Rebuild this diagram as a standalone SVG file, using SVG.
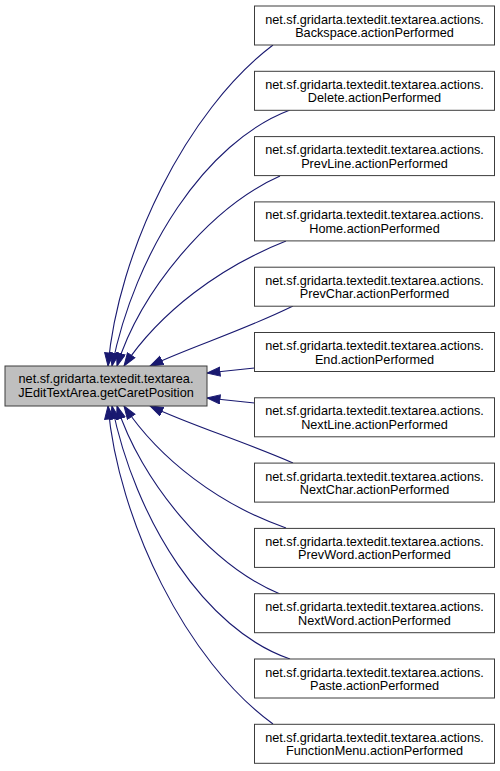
<svg xmlns="http://www.w3.org/2000/svg" width="500" height="771" viewBox="0 0 500 771">
<style>
.n rect{fill:#ffffff;stroke:#3c3c3c;stroke-width:1}
#root rect{fill:#bfbfbf}
text{font-family:"Liberation Sans",Arial,sans-serif;font-size:12.7px;fill:#000;text-anchor:middle}
.e path{fill:none;stroke:#191970;stroke-width:1.1;marker-end:url(#ah)}
</style>
<defs>
<marker id="ah" markerUnits="userSpaceOnUse" markerWidth="15" markerHeight="11" refX="13.5" refY="5" orient="auto" viewBox="0 0 15 11">
<path d="M0.5,0.5 L13.5,5 L0.5,9.5 z" fill="#191970" stroke="#191970" stroke-width="1"/>
</marker>
</defs>
<rect width="500" height="771" fill="#ffffff"/>
<g class="e" id="edges">
<path d="M273,45 C186,111 118,252 108,366"/>
<path d="M290,110 C205,142 135,252 112,366"/>
<path d="M280,176 C210,207 140,292 117,366"/>
<path d="M286,241 C220,267 160,312 124,366"/>
<path d="M293,306 C240,332 190,347 150,366"/>
<path d="M254.5,368 L207,373"/>
<path d="M254.5,403 L207,398"/>
<path d="M293,463 C240,440 190,425 150,406"/>
<path d="M286,528 C220,505 160,460 124,406"/>
<path d="M280,594 C210,565 140,480 117,406"/>
<path d="M290,659 C205,630 135,520 112,406"/>
<path d="M273,724 C186,661 118,520 108,406"/>
</g>
<g class="n" id="root">
<rect x="5" y="366" width="202" height="40"/>
<text x="106" y="383">net.sf.gridarta.textedit.textarea.</text>
<text x="106" y="397">JEditTextArea.getCaretPosition</text>
</g>
<g class="n" id="n1">
<rect x="254.5" y="6" width="240" height="39"/>
<text x="374.5" y="23.5">net.sf.gridarta.textedit.textarea.actions.</text>
<text x="374.5" y="37">Backspace.actionPerformed</text>
</g>
<g class="n" id="n2">
<rect x="254.5" y="71.3" width="240" height="39"/>
<text x="374.5" y="88.8">net.sf.gridarta.textedit.textarea.actions.</text>
<text x="374.5" y="102.3">Delete.actionPerformed</text>
</g>
<g class="n" id="n3">
<rect x="254.5" y="136.6" width="240" height="39"/>
<text x="374.5" y="154.1">net.sf.gridarta.textedit.textarea.actions.</text>
<text x="374.5" y="167.6">PrevLine.actionPerformed</text>
</g>
<g class="n" id="n4">
<rect x="254.5" y="201.9" width="240" height="39"/>
<text x="374.5" y="219.4">net.sf.gridarta.textedit.textarea.actions.</text>
<text x="374.5" y="232.9">Home.actionPerformed</text>
</g>
<g class="n" id="n5">
<rect x="254.5" y="267.2" width="240" height="39"/>
<text x="374.5" y="284.7">net.sf.gridarta.textedit.textarea.actions.</text>
<text x="374.5" y="298.2">PrevChar.actionPerformed</text>
</g>
<g class="n" id="n6">
<rect x="254.5" y="332.5" width="240" height="39"/>
<text x="374.5" y="350">net.sf.gridarta.textedit.textarea.actions.</text>
<text x="374.5" y="363.5">End.actionPerformed</text>
</g>
<g class="n" id="n7">
<rect x="254.5" y="397.8" width="240" height="39"/>
<text x="374.5" y="415.3">net.sf.gridarta.textedit.textarea.actions.</text>
<text x="374.5" y="428.8">NextLine.actionPerformed</text>
</g>
<g class="n" id="n8">
<rect x="254.5" y="463.1" width="240" height="39"/>
<text x="374.5" y="480.6">net.sf.gridarta.textedit.textarea.actions.</text>
<text x="374.5" y="494.1">NextChar.actionPerformed</text>
</g>
<g class="n" id="n9">
<rect x="254.5" y="528.4" width="240" height="39"/>
<text x="374.5" y="545.9">net.sf.gridarta.textedit.textarea.actions.</text>
<text x="374.5" y="559.4">PrevWord.actionPerformed</text>
</g>
<g class="n" id="n10">
<rect x="254.5" y="593.7" width="240" height="39"/>
<text x="374.5" y="611.2">net.sf.gridarta.textedit.textarea.actions.</text>
<text x="374.5" y="624.7">NextWord.actionPerformed</text>
</g>
<g class="n" id="n11">
<rect x="254.5" y="659" width="240" height="39"/>
<text x="374.5" y="676.5">net.sf.gridarta.textedit.textarea.actions.</text>
<text x="374.5" y="690">Paste.actionPerformed</text>
</g>
<g class="n" id="n12">
<rect x="254.5" y="724.3" width="240" height="39"/>
<text x="374.5" y="741.8">net.sf.gridarta.textedit.textarea.actions.</text>
<text x="374.5" y="755.3">FunctionMenu.actionPerformed</text>
</g>
</svg>
